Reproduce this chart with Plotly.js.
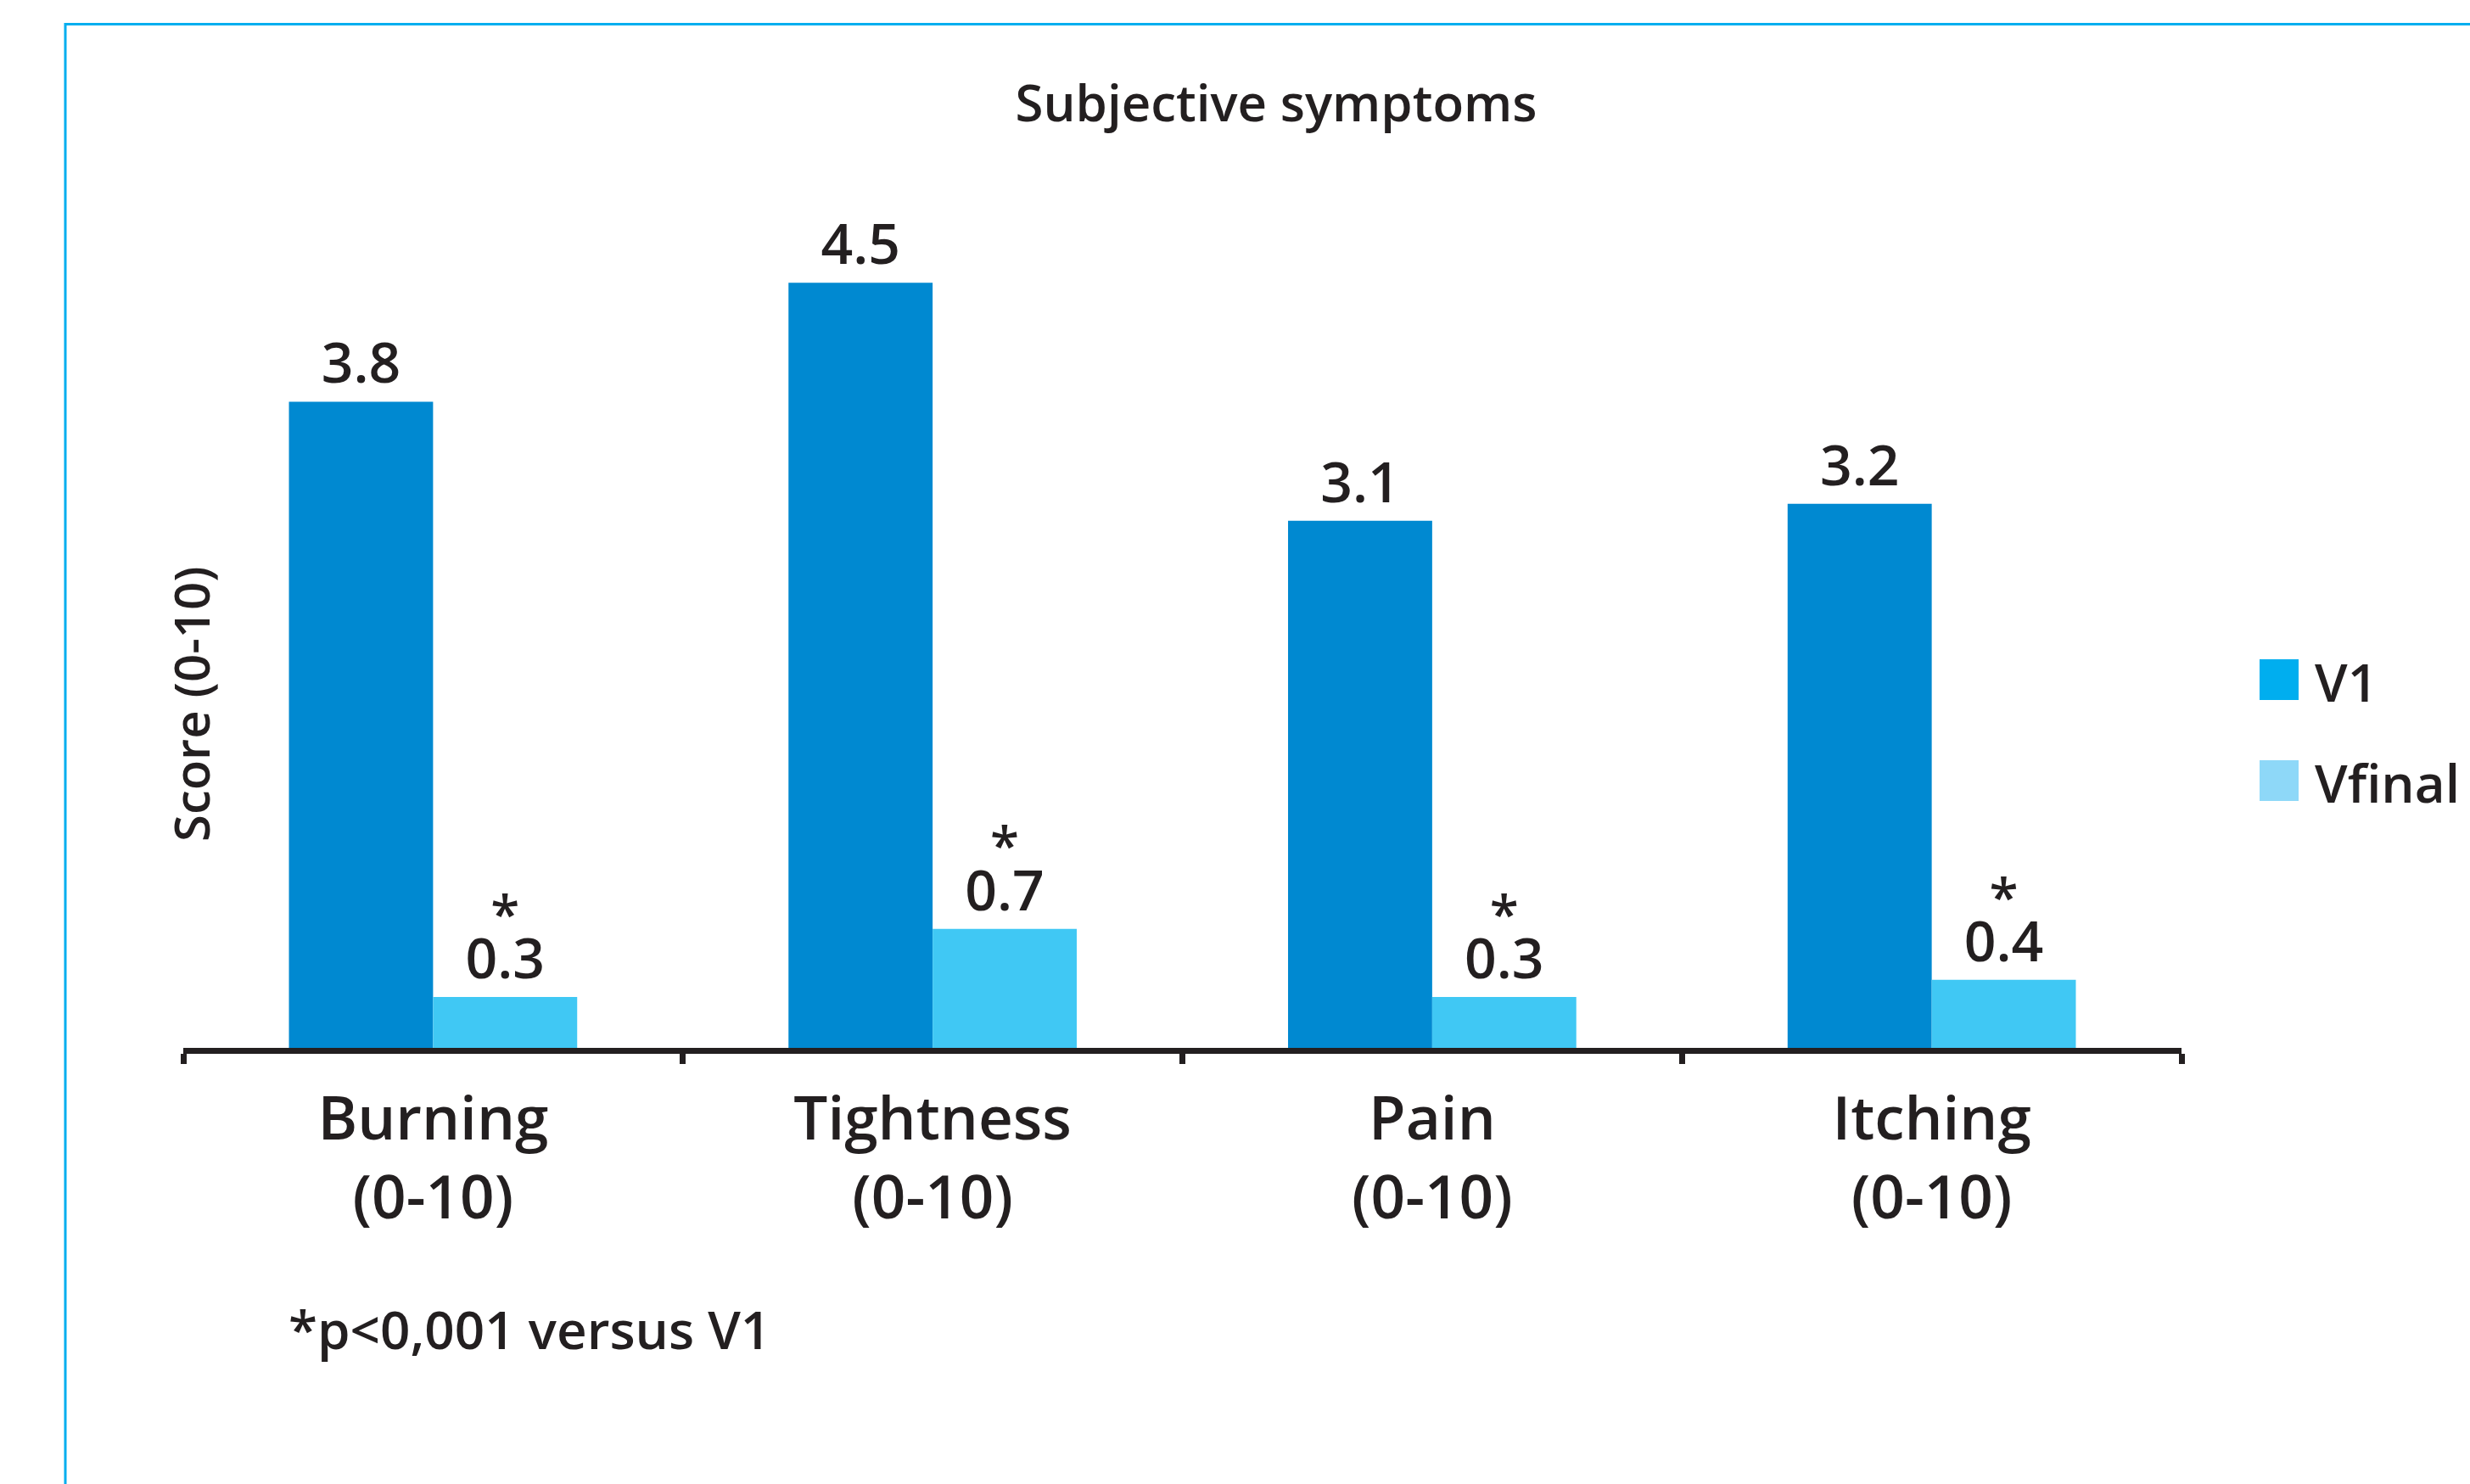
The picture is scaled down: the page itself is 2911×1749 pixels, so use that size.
<!DOCTYPE html>
<html>
<head>
<meta charset="utf-8">
<script src="https://cdn.plot.ly/plotly-3.0.1.min.js"></script>
<style>
html,body{margin:0;padding:0;background:#ffffff;}
#chart{width:2911px;height:1749px;}
</style>
</head>
<body>
<div id="chart"></div>
<script>
// ---- data ----
const categories = ['Burning', 'Tightness', 'Pain', 'Itching'];
const tickLabels = ['Burning<br>(0-10)', 'Tightness<br>(0-10)', 'Pain<br>(0-10)', 'Itching<br>(0-10)'];
const seriesNames = ['V1', 'Vfinal'];
const v1Values = [3.8, 4.5, 3.1, 3.2];
const vfinalValues = [0.3, 0.7, 0.3, 0.4];
const vfinalMarks = ['*', '*', '*', '*'];
const chartTitle = 'Subjective symptoms';
const yAxisTitle = 'Score (0-10)';
const footnote = '*p<0,001 versus V1';

// ---- styles ----
const barColors = ['#0089D1', '#40C8F4'];
const legendColors = ['#00AEEF', '#8ED8F8'];
const ink = '#231F20';
const fam = '"Open Sans", "Noto Sans", sans-serif';

const W = 2911, H = 1749;
const M = {l: 216, r: 340, t: 233, b: 514};
const pw = W - M.l - M.r, ph = H - M.t - M.b;
const px2x = p => (p - M.l) / pw;
const py2y = p => (H - M.b - p) / ph;
const bargap = 0.423;

const traces = [
  {
    type: 'bar', name: seriesNames[0], x: tickLabels, y: v1Values,
    marker: {color: barColors[0], line: {width: 0}},
    texttemplate: '%{y:.1f}', textposition: 'outside', cliponaxis: false,
    constraintext: 'none',
    textfont: {family: fam, size: 66, color: ink, weight: 600},
    showlegend: false, hoverinfo: 'skip'
  },
  {
    type: 'bar', name: seriesNames[1], x: tickLabels, y: vfinalValues,
    customdata: vfinalMarks,
    marker: {color: barColors[1], line: {width: 0}},
    texttemplate: '<span style="font-size:62px">%{customdata}</span><br><span style="font-size:66px">%{y:.1f}</span>',
    textposition: 'outside', cliponaxis: false,
    constraintext: 'none',
    textfont: {family: fam, size: 41, color: ink, weight: 600},
    showlegend: false, hoverinfo: 'skip'
  }
];

const annotations = [];
// y-axis title
annotations.push({
  xref: 'paper', yref: 'paper', x: px2x(224), y: py2y(830),
  text: yAxisTitle, textangle: -90, showarrow: false,
  xanchor: 'center', yanchor: 'middle',
  font: {family: fam, size: 58, color: ink, weight: 600}
});
// footnote
annotations.push({
  xref: 'paper', yref: 'paper', x: px2x(338), y: py2y(1566),
  text: footnote, showarrow: false, xanchor: 'left', yanchor: 'middle',
  font: {family: fam, size: 62, color: ink, weight: 600}
});

// custom legend
const shapes = [];
const legendTop = 777, legendStep = 119, swW = 46, swH = 48, swX = 2663;
seriesNames.forEach((n, i) => {
  const top = legendTop + i * legendStep;
  shapes.push({
    type: 'rect', xref: 'paper', yref: 'paper',
    x0: px2x(swX), x1: px2x(swX + swW), y0: py2y(top + swH), y1: py2y(top),
    fillcolor: legendColors[i], line: {width: 0}
  });
  annotations.push({
    xref: 'paper', yref: 'paper', x: px2x(2726), y: py2y(top + swH / 2 + 2),
    text: n, showarrow: false, xanchor: 'left', yanchor: 'middle',
    font: {family: fam, size: 62, color: ink, weight: 600}
  });
});
// frame border
shapes.push({
  type: 'rect', xref: 'paper', yref: 'paper', layer: 'below',
  x0: px2x(77), x1: px2x(W + 50), y0: py2y(H + 50), y1: py2y(28.5),
  line: {color: '#00AEEF', width: 3}, fillcolor: 'rgba(0,0,0,0)'
});

const layout = {
  width: W, height: H,
  margin: M,
  paper_bgcolor: '#ffffff', plot_bgcolor: '#ffffff',
  barmode: 'group', bargap: bargap, bargroupgap: 0,
  showlegend: false,
  title: {
    text: chartTitle, xref: 'container', yref: 'container',
    x: 1504 / W, xanchor: 'center', y: 1 - 122 / H, yanchor: 'middle',
    font: {family: fam, size: 60, color: ink, weight: 600}
  },
  xaxis: {
    type: 'category', range: [-0.5, 3.5],
    showline: true, linecolor: ink, linewidth: 7,
    ticks: 'outside', tickson: 'boundaries', ticklen: 12, tickwidth: 7, tickcolor: ink,
    showgrid: false, zeroline: false, fixedrange: true,
    tickfont: {family: fam, size: 71, color: ink, weight: 600},
    ticklabelstandoff: 16
  },
  yaxis: {
    range: [0, 5], showline: false, showgrid: false, zeroline: false,
    showticklabels: false, ticks: '', fixedrange: true
  },
  annotations: annotations,
  shapes: shapes,
  hovermode: false
};

Plotly.newPlot('chart', traces, layout, {displayModeBar: false, staticPlot: true});
</script>
</body>
</html>
